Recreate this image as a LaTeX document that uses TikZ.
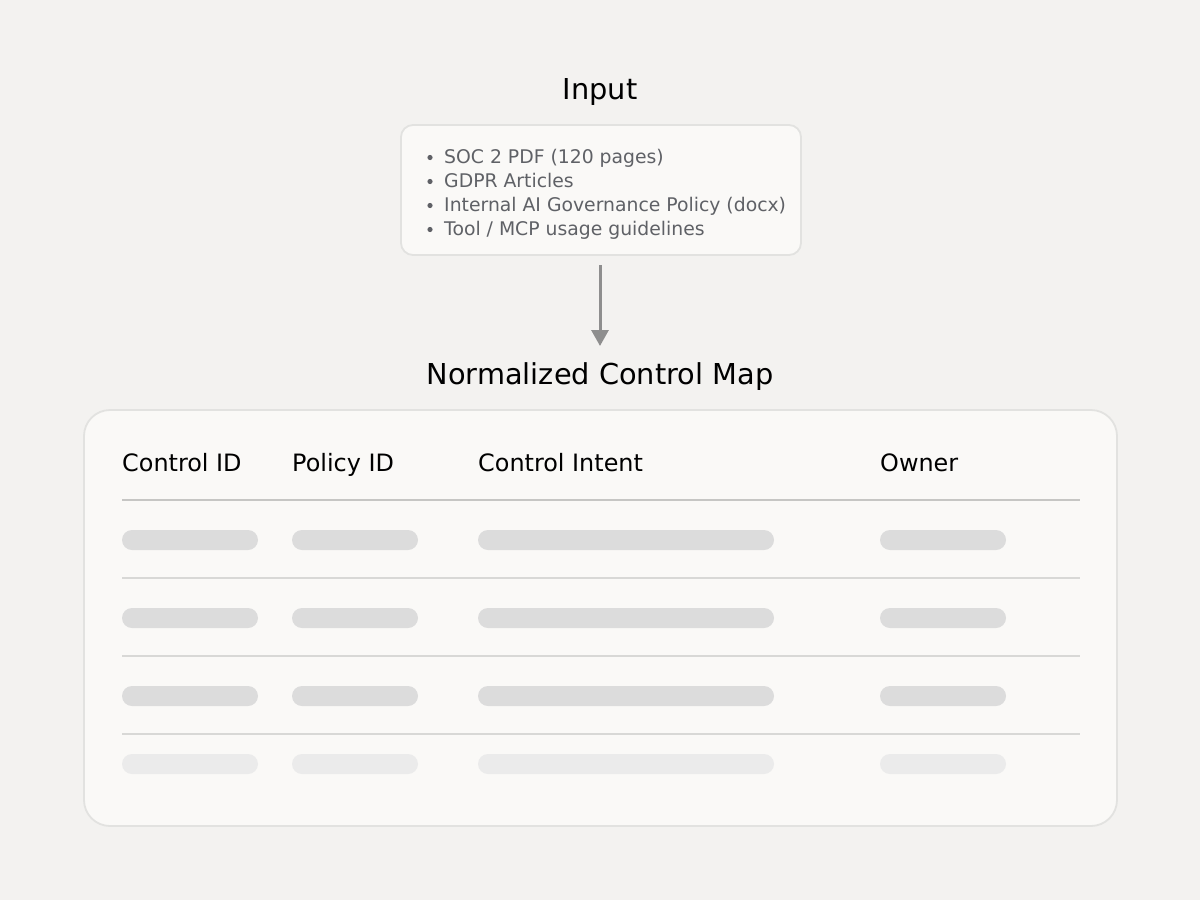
\documentclass[tikz,border=0pt]{standalone}
\usepackage{fontspec}
\setmainfont{DejaVu Sans}
\usetikzlibrary{arrows.meta}
\definecolor{bg}{HTML}{F3F2F0}
\definecolor{card}{HTML}{FAF9F7}
\definecolor{cardline}{HTML}{E2E2E0}
\definecolor{bullettext}{HTML}{5F6166}
\definecolor{arrowc}{HTML}{8E8E8E}
\definecolor{headrule}{HTML}{C6C6C4}
\definecolor{rowrule}{HTML}{D8D8D6}
\definecolor{pill}{HTML}{DCDCDC}
\definecolor{pilllight}{HTML}{EBEBEB}
\tikzset{
  title/.style={anchor=base, font=\fontsize{28.8}{34}\selectfont, text=black, inner sep=0pt},
  header/.style={anchor=base west, font=\fontsize{23.9}{28}\selectfont, text=black, inner sep=0pt},
  bulletitem/.style={anchor=base west, font=\fontsize{18.8}{23}\selectfont, text=bullettext, inner sep=0pt},
  cardbox/.style={draw=cardline, fill=card, line width=1.8pt},
  pillbar/.style={fill=pill, rounded corners=10pt},
  pillbarlight/.style={fill=pilllight, rounded corners=10pt},
  rule/.style={draw=rowrule, line width=1.8pt},
}
\begin{document}
\begin{tikzpicture}[x=1pt,y=1pt]
\useasboundingbox (0,0) rectangle (1200,-900);
\fill[bg] (0,0) rectangle (1200,-900);

% Input
\node[title] (inputtitle) at (600,-99) {Input};
\draw[cardbox, rounded corners=12pt] (401,-125) rectangle (801,-255);
\coordinate (inboxbottom) at (600,-265);
\foreach \y/\t [count=\i] in {163/{SOC 2 PDF (120 pages)},187/{GDPR Articles},211/{Internal AI Governance Policy (docx)},235/{Tool / MCP usage guidelines}}{
  \fill[bullettext] (430,-\y+5.5) circle (2.6pt);
  \node[bulletitem] (item\i) at (444,-\y) {\t};
}

% arrow
\coordinate (arrowend) at (600,-346);
\draw[arrowc, line width=3pt, -{Triangle[length=16pt,width=17pt]}] (inboxbottom) -- (arrowend);

\node[title] (maptitle) at (600,-384) {Normalized Control Map};

% Table card
\draw[cardbox, rounded corners=26pt] (84,-410) rectangle (1117,-826);

\node[header] (h1) at (122,-471.5) {Control ID};
\node[header] (h2) at (292,-471.5) {Policy ID};
\node[header] (h3) at (478,-471.5) {Control Intent};
\node[header] (h4) at (880,-471.5) {Owner};

\draw[draw=headrule, line width=2pt] (122,-500) -- (1080,-500);
\foreach \y in {578,656,734}{
  \draw[rule] (122,-\y) -- (1080,-\y);
}

\foreach \y in {540,618,696}{
  \fill[pillbar] (122,-\y+10) rectangle (258,-\y-10);
  \fill[pillbar] (292,-\y+10) rectangle (418,-\y-10);
  \fill[pillbar] (478,-\y+10) rectangle (774,-\y-10);
  \fill[pillbar] (880,-\y+10) rectangle (1006,-\y-10);
}
\foreach \y in {764}{
  \fill[pillbarlight] (122,-\y+10) rectangle (258,-\y-10);
  \fill[pillbarlight] (292,-\y+10) rectangle (418,-\y-10);
  \fill[pillbarlight] (478,-\y+10) rectangle (774,-\y-10);
  \fill[pillbarlight] (880,-\y+10) rectangle (1006,-\y-10);
}
\end{tikzpicture}
\end{document}
